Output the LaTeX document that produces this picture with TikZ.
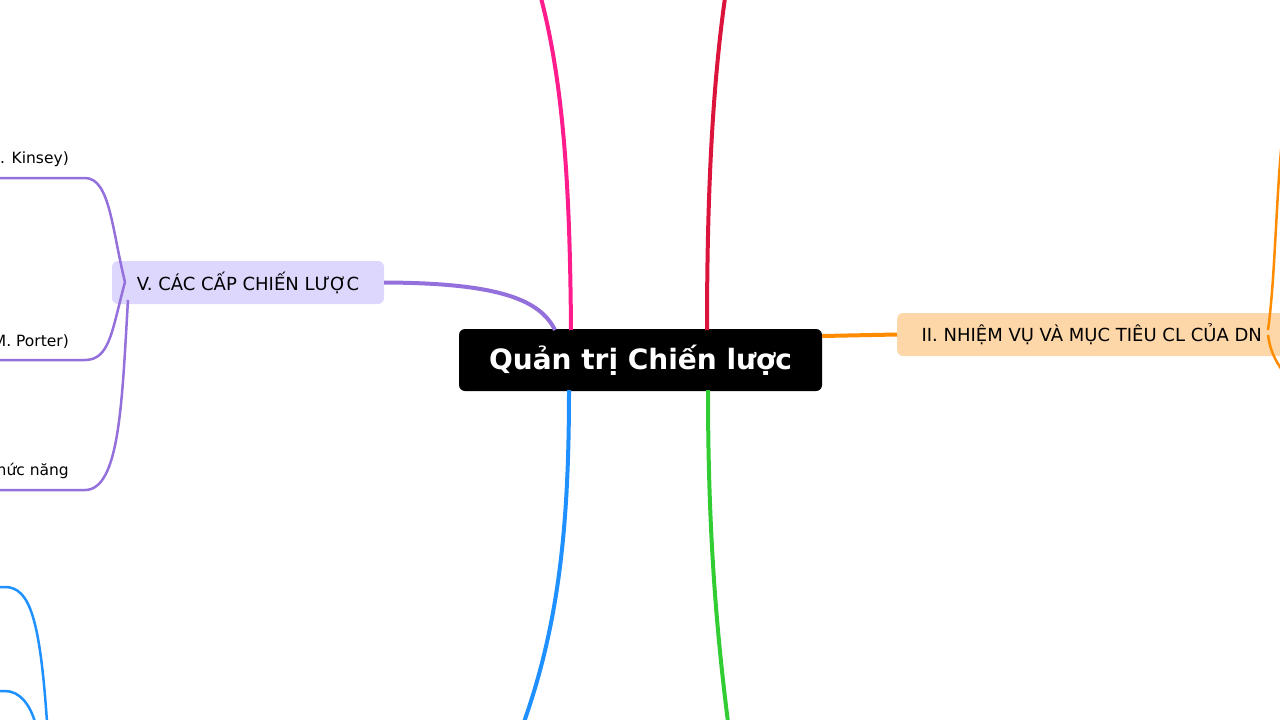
\documentclass[tikz,border=0pt]{standalone}
\usepackage{fontspec}
\setmainfont{DejaVu Sans}
\definecolor{cPink}{HTML}{FF1C8D}
\definecolor{cRed}{HTML}{DC143C}
\definecolor{cBlue}{HTML}{1E90FF}
\definecolor{cGreen}{HTML}{32CD32}
\definecolor{cOrange}{HTML}{FF8C00}
\definecolor{cPurple}{HTML}{9370DB}
\definecolor{fPurple}{HTML}{DDD7FE}
\definecolor{fOrange}{HTML}{FED7A9}
\begin{document}
\begin{tikzpicture}[x=1pt,y=-1pt,
    topic/.style={rounded corners=6pt, inner sep=0pt, minimum height=43pt, font=\fontsize{18}{21}\selectfont},
    leaf/.style={anchor=south east, inner sep=2pt, font=\fontsize{15.5}{18}\selectfont},
    main/.style={line width=4pt},
    sub/.style={line width=2.5pt}]
    \useasboundingbox (0,0) rectangle (1280,720);
    \clip (0,0) rectangle (1280,720);

    % noeud central et branches
    \node[fill=black, text=white, rounded corners=6pt, minimum width=363pt, minimum height=62pt,
          font=\bfseries\fontsize{28}{33}\selectfont] (root) at (640.5,360) {Quản trị Chiến lược};
    \node[topic, fill=fPurple, minimum width=272pt] (strat) at (248,282.5) {V. CÁC CẤP CHIẾN LƯỢC};
    \node[topic, fill=fOrange, minimum width=393pt, anchor=west] (goal) at (897,334.5) {\hspace*{-4pt}II. NHIỆM VỤ VÀ MỤC TIÊU CL CỦA DN};

    % bouts libres
    \coordinate (pinkTop) at (541,-2);
    \coordinate (redTop) at (725,-2);
    \coordinate (blueBot) at (524,722);
    \coordinate (greenBot) at (728,722);

    \draw[main, cPink] (571,330) .. controls (570,200) and (565,90) .. (pinkTop);
    \draw[main, cRed] (707,330) .. controls (707,200) and (712,90) .. (redTop);
    \draw[main, cBlue] (569,390) .. controls (569,520) and (560,620) .. (blueBot);
    \draw[main, cGreen] (708,390) .. controls (708,520) and (715,620) .. (greenBot);
    \draw[main, cOrange] (root.east |- 0,336) -- (goal.west);
    \draw[main, cPurple] (strat.east) .. controls (500,283) and (540,300) .. (555,330);

    % sous-branches orange
    \draw[sub, cOrange] (1268,330) .. controls (1275,280) and (1276,200) .. (1282,140);
    \draw[sub, cOrange] (1268,335) .. controls (1270,350) and (1275,360) .. (1282,370);

    % feuilles violettes
    \node[leaf] (kinsey) at (71,169) {. Kinsey)};
    \node[leaf] (porter) at (71,351) {M. Porter)};
    \node[leaf] (func) at (71,481) {hức năng};
    \draw[sub, cPurple] (125,282) .. controls (112,230) and (110,178) .. (85,178) -- (-2,178);
    \draw[sub, cPurple] (125,282) .. controls (112,330) and (110,360) .. (85,360) -- (-2,360);
    \draw[sub, cPurple] (128,300) .. controls (122,400) and (120,490) .. (85,490) -- (-2,490);

    % feuilles bleues
    \draw[sub, cBlue] (-2,587) -- (5,587) .. controls (30,587) and (40,620) .. (47,722);
    \draw[sub, cBlue] (-2,691) -- (5,691) .. controls (20,691) and (30,705) .. (35,722);
\end{tikzpicture}
\end{document}
